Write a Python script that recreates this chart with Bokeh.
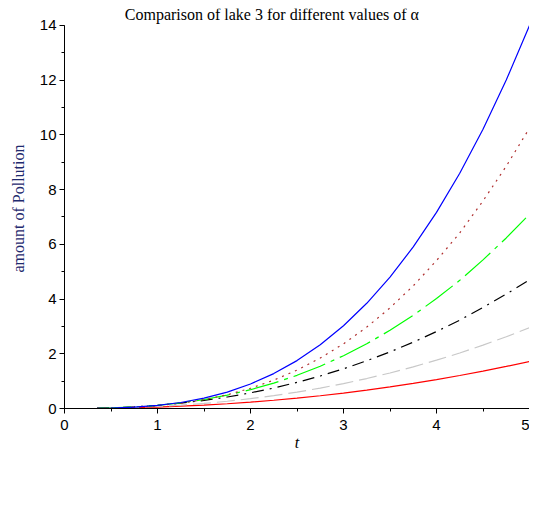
from bokeh.plotting import figure
from bokeh.models import (Range1d, SingleIntervalTicker, Legend, LegendItem, Label)
from bokeh.embed import file_html
from bokeh.resources import INLINE

# time values
t = [0.35, 0.5, 0.75, 1.0, 1.25, 1.5, 1.75, 2.0, 2.25, 2.5, 2.75, 3.0,
     3.25, 3.5, 3.75, 4.0, 4.25, 4.5, 4.75, 5.0]

# amount of pollution for each alpha
a05 = [0.0052, 0.0114, 0.0276, 0.0516, 0.084, 0.125, 0.174, 0.233, 0.301, 0.380,
       0.467, 0.565, 0.672, 0.790, 0.918, 1.058, 1.206, 1.368, 1.539, 1.72]
a06 = [0.0065, 0.0148, 0.0376, 0.0729, 0.1216, 0.185, 0.264, 0.359, 0.470, 0.599,
       0.746, 0.911, 1.095, 1.298, 1.522, 1.766, 2.028, 2.317, 2.624, 2.95]
a07 = [0.0104, 0.0235, 0.0599, 0.116, 0.194, 0.295, 0.420, 0.572, 0.748, 0.955,
       1.188, 1.451, 1.745, 2.068, 2.424, 2.814, 3.230, 3.691, 4.181, 4.70]
a08 = [0.0081, 0.0200, 0.0563, 0.117, 0.207, 0.330, 0.488, 0.687, 0.926, 1.213,
       1.546, 1.929, 2.366, 2.858, 3.408, 4.019, 4.684, 5.432, 6.234, 7.10]
a09 = [0.0050, 0.0138, 0.0443, 0.101, 0.192, 0.324, 0.503, 0.740, 1.035, 1.402,
       1.843, 2.364, 2.975, 3.678, 4.483, 5.405, 6.419, 7.586, 8.858, 10.25]
a10 = [0.0048, 0.014, 0.0473, 0.112, 0.219, 0.378, 0.600, 0.896, 1.276, 1.750,
       2.329, 3.024, 3.845, 4.802, 5.906, 7.168, 8.598, 10.206, 12.004, 14.0]

labels = ["\u03b1 = 0.5", "\u03b1 = 0.6", "\u03b1 = 0.7", "\u03b1 = 0.8", "\u03b1 = 0.9", "\u03b1 = 1"]
series = [a05, a06, a07, a08, a09, a10]
colors = ["#FF0000", "#C8C8C8", "#000000", "#00FF00", "#B03030", "#0000FF"]
dashes = ["solid", "18 6", "12 6 2 6", "34 6 4 6", "2 5", "solid"]

p = figure(width=529, height=513, frame_width=465, frame_height=400,
           output_backend="svg", toolbar_location=None,
           x_range=Range1d(0, 5), y_range=Range1d(0, 14.62),
           min_border_left=64, min_border_right=0, min_border_top=8,
           min_border_bottom=0)
p.outline_line_color = None
p.xgrid.visible = False
p.ygrid.visible = False
p.background_fill_color = "white"
p.border_fill_color = "white"

for ax in (p.xaxis[0], p.yaxis[0]):
    ax.major_tick_out = 5
    ax.major_tick_in = 0
    ax.minor_tick_out = 3
    ax.minor_tick_in = 0
    ax.axis_line_color = "black"
    ax.major_tick_line_color = "black"
    ax.minor_tick_line_color = "black"
    ax.major_label_text_font = "Liberation Sans"
    ax.major_label_text_font_size = "15px"
    ax.major_label_text_color = "black"

p.xaxis[0].ticker = SingleIntervalTicker(interval=1, num_minor_ticks=2)
p.yaxis[0].ticker = SingleIntervalTicker(interval=2, num_minor_ticks=2)
p.xaxis[0].bounds = (0, 5)
p.yaxis[0].bounds = (0, 14)
p.xaxis[0].major_label_standoff = 6
p.yaxis[0].major_label_standoff = 3

p.xaxis[0].axis_label = "t"
p.xaxis[0].axis_label_text_font = "Liberation Serif"
p.xaxis[0].axis_label_text_font_style = "italic"
p.xaxis[0].axis_label_text_font_size = "16px"
p.xaxis[0].axis_label_standoff = 1
p.xaxis[0].axis_label_text_color = "black"

p.yaxis[0].axis_label = "amount of Pollution"
p.yaxis[0].axis_label_text_font = "Liberation Serif"
p.yaxis[0].axis_label_text_font_style = "normal"
p.yaxis[0].axis_label_text_font_size = "16px"
p.yaxis[0].axis_label_text_color = "#1F2A6E"
p.yaxis[0].axis_label_standoff = 10

items = []
for lab, ys, c, d in zip(labels, series, colors, dashes):
    r = p.line(t, ys, line_color=c, line_width=1.2, line_dash=d)
    items.append(LegendItem(label=lab, renderers=[r]))

title = Label(x=2.23, y=14.4, text="Comparison of lake 3 for different values of \u03b1",
              text_font="Liberation Serif", text_font_size="16px",
              text_align="center", text_baseline="middle", text_color="black")
p.add_layout(title)

legend = Legend(items=items, orientation="horizontal", ncols=4,
                location="top_left",
                glyph_width=45, glyph_height=19, label_height=19,
                label_width=58, label_standoff=6, spacing=7, padding=6,
                label_text_font="Liberation Sans", label_text_font_size="16px",
                label_text_color="black",
                border_line_color="black", border_line_width=1,
                background_fill_color="white", background_fill_alpha=1,
                margin=0)
p.add_layout(legend, "below")

open("out.html", "w").write(file_html(p, INLINE))
